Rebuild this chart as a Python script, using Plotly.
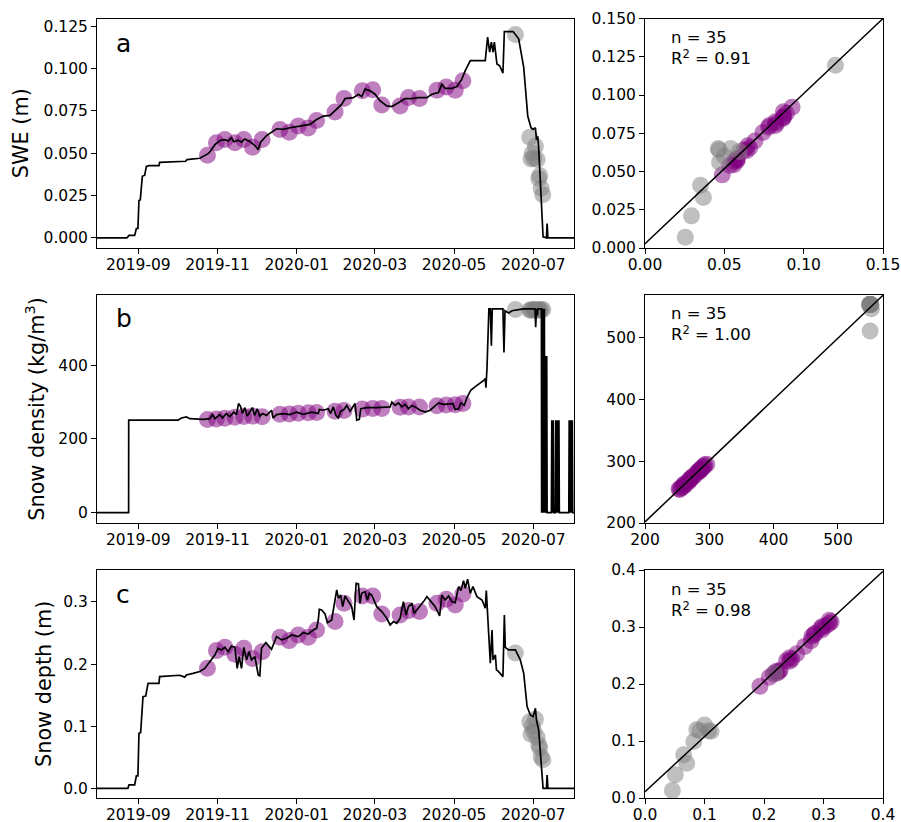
import numpy as np
import pandas as pd
import plotly.graph_objects as go

SEASON_START = pd.Timestamp("2019-09-01")

# Modelled series as (days since 1 Sep 2019, value) vertices
SWE_MODEL = [
    (-31.8, 0.0), (-8.7, 0.0), (-7.2, 0.0014), (-2.8, 0.0014), (-1.5, 0.0055), (-0.3, 0.0055),
    (0.5, 0.022), (1.5, 0.0224), (3.1, 0.0363), (4.9, 0.037), (6.2, 0.0422), (8.2, 0.0426),
    (15.9, 0.0426), (16.4, 0.0446), (36.5, 0.0452), (37.5, 0.0462), (47.3, 0.047), (50.4, 0.0481),
    (53.7, 0.0497), (55.5, 0.0511), (58.9, 0.055), (63.2, 0.0576), (66.6, 0.058), (69.1, 0.0572),
    (71.7, 0.059), (73.5, 0.0567), (76.8, 0.0576), (79.4, 0.0565), (81.9, 0.0584), (85.8, 0.0569),
    (89.7, 0.0545), (92.3, 0.0521), (94.1, 0.0565), (98.7, 0.0604), (106.4, 0.0644), (111.5, 0.064),
    (116.7, 0.065), (124.4, 0.066), (132.1, 0.067), (137.2, 0.0699), (142.4, 0.0719), (147.5, 0.0723),
    (152.7, 0.0759), (156.5, 0.0788), (159.1, 0.0822), (165.5, 0.0828), (169.4, 0.0848), (172.0, 0.0834),
    (174.5, 0.0878), (178.4, 0.0868), (182.2, 0.0848), (186.1, 0.0808), (191.2, 0.0779), (195.1, 0.0775),
    (200.2, 0.0798), (205.3, 0.0822), (210.5, 0.0822), (215.6, 0.0828), (222.0, 0.0828), (225.9, 0.0848),
    (231.0, 0.0858), (233.6, 0.0907), (236.2, 0.0882), (241.3, 0.0882), (245.2, 0.0893), (249.0, 0.0937),
    (251.6, 0.0987), (255.5, 0.1046), (259.3, 0.1046), (267.0, 0.1046), (268.8, 0.1185), (270.4, 0.1096),
    (271.7, 0.1155), (273.0, 0.1096), (274.0, 0.1155), (276.0, 0.1026), (278.1, 0.1016), (280.6, 0.0973),
    (281.7, 0.1218), (288.4, 0.1218), (292.7, 0.1175), (294.0, 0.1125), (296.6, 0.1006), (299.7, 0.0719),
    (302.2, 0.065), (303.8, 0.064), (305.6, 0.065), (306.4, 0.058), (307.4, 0.06), (308.1, 0.0531),
    (311.5, 0.0006), (314.1, 0.0), (314.6, 0.0085), (315.2, 0.0), (335.3, 0.0),
]

DENSITY_MODEL = [
    (-31.8, 0), (-7.45, 0), (-7.4, 251), (30.6, 251), (33.2, 257), (37.0, 260), (39.6, 255),
    (49.9, 253), (55.0, 255), (57.1, 266), (58.9, 255), (62.7, 266), (64.8, 257), (67.8, 269),
    (70.4, 260), (73.5, 273), (75.6, 266), (77.1, 296), (78.6, 289), (80.2, 269), (82.0, 285),
    (83.8, 262), (85.8, 273), (87.9, 285), (89.4, 264), (91.5, 282), (93.5, 262), (95.6, 269),
    (98.7, 264), (102.5, 278), (103.8, 257), (106.4, 266), (111.5, 269), (116.7, 266), (121.8, 273),
    (127.0, 267), (133.4, 273), (138.5, 269), (139.3, 280), (142.4, 278), (146.2, 282), (148.0, 269),
    (150.1, 287), (152.1, 264), (153.9, 257), (155.7, 275), (158.3, 280), (160.4, 291), (162.9, 275),
    (165.5, 287), (166.8, 296), (168.1, 251), (170.1, 253), (171.2, 282), (175.8, 285), (183.5, 285),
    (188.6, 285), (193.8, 287), (195.1, 300), (197.6, 291), (200.2, 298), (202.8, 287), (205.3, 294),
    (207.9, 282), (210.5, 291), (213.1, 287), (216.9, 278), (220.8, 273), (224.6, 278), (228.5, 289),
    (231.0, 298), (234.4, 294), (238.8, 294), (242.1, 296), (243.9, 280), (246.5, 282), (248.3, 298),
    (250.8, 291), (252.9, 312), (256.0, 333), (260.1, 344), (263.2, 351), (266.3, 360), (267.0, 364),
    (267.5, 339), (268.3, 389), (269.8, 553), (270.9, 553), (271.7, 453), (272.4, 553), (280.6, 553),
    (281.4, 435), (282.2, 548), (285.0, 542), (287.6, 548), (292.7, 551), (296.6, 553), (305.3, 553),
    (305.8, 503), (306.4, 553), (307.1, 535), (307.6, 553), (310.2, 553),
    # hourly switching once the pack disappears
    (310.4, 0), (310.7, 553), (311.0, 0), (311.3, 553), (311.6, 0), (311.9, 425), (312.2, 0),
    (312.5, 553), (312.8, 0), (313.1, 425), (313.4, 0), (313.7, 425), (314.0, 0), (314.3, 425),
    (314.6, 0), (317.9, 0), (318.2, 251), (318.5, 0), (318.8, 251), (319.1, 0), (319.4, 251),
    (319.7, 0), (321.0, 0), (321.3, 251), (321.6, 0), (321.9, 251), (322.2, 0), (322.5, 251),
    (322.8, 0), (323.1, 251), (323.4, 0), (323.7, 251), (324.0, 0), (331.3, 0), (331.6, 251),
    (331.9, 0), (332.2, 251), (332.5, 0), (332.8, 251), (333.1, 0), (333.4, 251), (333.7, 0),
    (334.0, 251), (334.3, 0), (335.3, 0),
]

DEPTH_MODEL = [
    (-31.8, 0.0), (-8.0, 0.0), (-7.2, 0.0054), (-2.8, 0.0054), (-1.5, 0.0199), (-0.3, 0.0199),
    (0.5, 0.0886), (1.8, 0.0896), (3.6, 0.1476), (5.7, 0.1487), (7.5, 0.169), (15.9, 0.169),
    (16.4, 0.1798), (24.2, 0.181), (31.9, 0.182), (35.7, 0.179), (37.0, 0.1825), (42.1, 0.185),
    (47.3, 0.188), (51.1, 0.193), (53.7, 0.2), (56.3, 0.2067), (58.9, 0.2147), (61.4, 0.2254),
    (64.0, 0.2228), (66.6, 0.227), (69.1, 0.22), (71.7, 0.2292), (74.3, 0.227), (76.1, 0.1932),
    (77.6, 0.212), (79.4, 0.1932), (81.2, 0.227), (83.3, 0.2067), (85.3, 0.22), (87.1, 0.2067),
    (89.7, 0.212), (92.3, 0.1825), (93.5, 0.181), (94.8, 0.2254), (98.2, 0.2346), (102.5, 0.2238),
    (106.4, 0.2442), (110.3, 0.2389), (114.1, 0.2415), (118.0, 0.247), (123.1, 0.2442), (127.0, 0.2507),
    (130.8, 0.2485), (134.7, 0.255), (137.2, 0.2576), (138.5, 0.271), (139.3, 0.2883), (141.1, 0.2872),
    (143.7, 0.2807), (145.5, 0.2668), (148.8, 0.271), (152.7, 0.3194), (154.0, 0.306), (155.7, 0.3113),
    (157.3, 0.2925), (159.1, 0.3097), (161.7, 0.3006), (164.2, 0.2925), (166.0, 0.271), (167.6, 0.3301),
    (169.4, 0.329), (170.6, 0.2979), (171.9, 0.314), (174.5, 0.3167), (176.3, 0.3033), (177.8, 0.314),
    (179.6, 0.3113), (183.5, 0.2925), (187.4, 0.2845), (191.2, 0.2738), (193.8, 0.263), (196.3, 0.2684),
    (198.9, 0.2657), (201.5, 0.2738), (204.0, 0.3006), (206.1, 0.2791), (207.9, 0.2925), (210.5, 0.2979),
    (212.3, 0.2818), (215.6, 0.2899), (219.5, 0.3006), (222.1, 0.3086), (225.9, 0.2979), (228.5, 0.2925),
    (231.9, 0.2775), (233.6, 0.3113), (236.2, 0.3033), (238.8, 0.3097), (241.3, 0.3006), (243.9, 0.299),
    (246.5, 0.3247), (248.3, 0.3183), (250.3, 0.3344), (251.6, 0.322), (253.4, 0.3366), (255.5, 0.314),
    (257.5, 0.3247), (260.6, 0.3086), (264.5, 0.3033), (267.0, 0.2899), (267.8, 0.3183), (268.8, 0.2764),
    (270.9, 0.2013), (272.2, 0.255), (273.0, 0.2067), (274.8, 0.2147), (275.6, 0.1906), (277.3, 0.1879),
    (280.6, 0.1798), (281.7, 0.2791), (282.4, 0.227), (285.0, 0.2228), (290.2, 0.2228), (294.0, 0.2067),
    (296.6, 0.1852), (299.2, 0.1315), (301.7, 0.1181), (303.8, 0.1154), (305.6, 0.1288), (306.4, 0.11),
    (308.1, 0.0939), (311.5, 0.0), (314.1, 0.0), (314.6, 0.0215), (315.2, 0.0), (335.3, 0.0),
]

# Snow-pit / survey observations (days since 1 Sep 2019)
OBS_DAYS = [53.2, 60.1, 66.6, 74.3, 81.2, 87.9, 95.3, 109.0, 116.2, 123.1, 130.8, 137.2,
            151.4, 158.3, 172.4, 180.4, 187.4, 201.5, 207.9, 216.4, 229.8, 237.0, 243.9, 249.8,
            290.2, 301.2, 302.2, 303.2, 304.3, 305.6, 306.9, 308.2, 308.9, 310.0, 311.3]
OBS_MELT = [False] * 24 + [True] * 11

SWE_OBS = [0.0487, 0.0561, 0.0580, 0.0561, 0.0580, 0.0535, 0.0580, 0.0640, 0.0624, 0.0660, 0.0648, 0.0693,
           0.0743, 0.0822, 0.0868, 0.0874, 0.0784, 0.0779, 0.0828, 0.0822, 0.0872, 0.0891, 0.0872, 0.0927,
           0.1200, 0.0594, 0.0466, 0.0500, 0.0470, 0.0541, 0.0462, 0.0350, 0.0368, 0.0293, 0.0254]
SWE_SIM = [0.0478, 0.0545, 0.0570, 0.0565, 0.0578, 0.0540, 0.0585, 0.0635, 0.0640, 0.0655, 0.0668, 0.0700,
           0.0755, 0.0800, 0.0845, 0.0860, 0.0800, 0.0790, 0.0815, 0.0825, 0.0855, 0.0880, 0.0890, 0.0920,
           0.1195, 0.0630, 0.0640, 0.0600, 0.0560, 0.0650, 0.0650, 0.0410, 0.0330, 0.0210, 0.0070]

DENSITY_OBS = [253, 254, 256, 259, 261, 262, 260, 267, 268, 270, 271, 272,
               275, 277, 281, 283, 283, 286, 287, 287, 290, 292, 293, 296,
               551, 550, 549, 550, 552, 550, 549, 551, 550, 550, 551]
DENSITY_SIM = [255, 254, 257, 258, 262, 261, 262, 266, 269, 269, 272, 273,
               276, 276, 282, 282, 284, 285, 288, 286, 291, 291, 294, 295,
               553, 553, 553, 553, 546, 510, 553, 553, 553, 553, 553]

DEPTH_OBS = [0.1932, 0.2217, 0.2270, 0.2160, 0.2254, 0.2090, 0.2200, 0.2432, 0.2378, 0.2469, 0.2432, 0.2550,
             0.2684, 0.2979, 0.3097, 0.3097, 0.2807, 0.2791, 0.2861, 0.2845, 0.2979, 0.3043, 0.2952, 0.3129,
             0.2180, 0.1070, 0.0870, 0.1000, 0.0920, 0.1110, 0.0820, 0.0700, 0.0650, 0.0510, 0.0460]
DEPTH_SIM = [0.196, 0.219, 0.224, 0.218, 0.222, 0.212, 0.222, 0.240, 0.241, 0.244, 0.246, 0.253,
             0.266, 0.295, 0.306, 0.312, 0.284, 0.276, 0.289, 0.287, 0.301, 0.302, 0.298, 0.309,
             0.219, 0.118, 0.120, 0.128, 0.118, 0.117, 0.099, 0.061, 0.076, 0.041, 0.013]

PANEL_LETTERS = ["a", "b", "c"]
Y_TITLES = ["SWE (m)", "Snow density (kg/m<sup>3</sup>)", "Snow depth (m)"]
R2_TEXT = ["0.91", "1.00", "0.98"]
FIT_SLOPE = [0.981, 0.989, 0.967]
FIT_INTERCEPT = [0.0028, 4.0, 0.011]

# ---------------------------------------------------------------- styling
W, H = 901, 822
FONT = "DejaVu Sans"
PURPLE = "#800080"
GREY = "#808080"
TICK_FONT = dict(family=FONT, size=15.5, color="black")

LEFT_X = (97, 574)
RIGHT_X = (645, 883)
ROWS_Y = [(18.5, 248), (294.5, 523), (570, 798)]
TITLE_X = [21, 35, 44]

TS_YRANGE = [[-0.006, 0.1295], [-28, 592], [-0.0156, 0.3515]]
TS_YTICKS = [dict(dtick=0.025, tick0=0, tickformat=".3f"),
             dict(tickvals=[0, 200, 400]),
             dict(dtick=0.1, tick0=0, tickformat=".1f")]
SC_RANGE = [([0, 0.15], [0, 0.15]), ([200, 570], [200, 569]), ([0, 0.4], [0, 0.4])]
SC_XTICKS = [dict(dtick=0.05, tick0=0, tickformat=".2f"),
             dict(dtick=100, tick0=200),
             dict(dtick=0.1, tick0=0, tickformat=".1f")]
SC_YTICKS = [dict(dtick=0.025, tick0=0, tickformat=".3f"),
             dict(dtick=100, tick0=200),
             dict(dtick=0.1, tick0=0, tickformat=".1f")]


def to_dates(days):
    return SEASON_START + pd.to_timedelta(np.asarray(days, dtype=float), unit="D")


def px_x(a, b):
    return [a / W, b / W]


def px_y(top, bottom):
    return [1 - bottom / H, 1 - top / H]


base_axis = dict(showline=True, mirror=True, linecolor="black", linewidth=1,
                 ticks="outside", ticklen=5, tickwidth=1, tickcolor="black",
                 showgrid=False, zeroline=False, tickfont=TICK_FONT, automargin=False)
x_axis = dict(base_axis, ticklabelstandoff=-3)

fig = go.Figure()
layout = {}
annotations = []

models = [SWE_MODEL, DENSITY_MODEL, DEPTH_MODEL]
obs_sets = [SWE_OBS, DENSITY_OBS, DEPTH_OBS]
sim_sets = [SWE_SIM, DENSITY_SIM, DEPTH_SIM]

obs_dates = to_dates(OBS_DAYS)
melt = np.array(OBS_MELT)

for i in range(3):
    ts_n, sc_n = 2 * i + 1, 2 * i + 2
    ts_x = "x" if ts_n == 1 else f"x{ts_n}"
    ts_y = "y" if ts_n == 1 else f"y{ts_n}"
    sc_x, sc_y = f"x{sc_n}", f"y{sc_n}"

    obs = np.array(obs_sets[i], dtype=float)
    sim = np.array(sim_sets[i], dtype=float)

    # time series: observation markers then modelled line on top
    for mask, col in ((~melt, PURPLE), (melt, GREY)):
        fig.add_trace(go.Scatter(
            x=obs_dates[mask], y=obs[mask], mode="markers", xaxis=ts_x, yaxis=ts_y,
            marker=dict(size=17, color=col, opacity=0.5, line=dict(width=0)),
            showlegend=False, hoverinfo="skip"))
    days, vals = zip(*models[i])
    fig.add_trace(go.Scatter(
        x=to_dates(days), y=list(vals), mode="lines", xaxis=ts_x, yaxis=ts_y,
        line=dict(color="black", width=1.7), showlegend=False, hoverinfo="skip"))

    # observed vs modelled scatter with regression line
    for mask, col in ((~melt, PURPLE), (melt, GREY)):
        fig.add_trace(go.Scatter(
            x=obs[mask], y=sim[mask], mode="markers", xaxis=sc_x, yaxis=sc_y,
            marker=dict(size=17, color=col, opacity=0.5, line=dict(width=0)),
            showlegend=False, hoverinfo="skip"))
    xr, yr = SC_RANGE[i]
    fx = np.array(xr, dtype=float)
    fig.add_trace(go.Scatter(
        x=fx, y=FIT_INTERCEPT[i] + FIT_SLOPE[i] * fx, mode="lines", xaxis=sc_x, yaxis=sc_y,
        line=dict(color="black", width=1.5), showlegend=False, hoverinfo="skip"))

    top, bottom = ROWS_Y[i]
    ts_xkey = "xaxis" if ts_n == 1 else f"xaxis{ts_n}"
    ts_ykey = "yaxis" if ts_n == 1 else f"yaxis{ts_n}"
    layout[ts_xkey] = dict(x_axis, domain=px_x(*LEFT_X), anchor=ts_y, type="date",
                           range=["2019-07-31 05:00", "2020-08-01 07:00"],
                           tickformat="%Y-%m", dtick="M2", tick0="2019-09-01")
    layout[ts_ykey] = dict(base_axis, domain=px_y(top, bottom), anchor=ts_x,
                           range=TS_YRANGE[i], **TS_YTICKS[i])
    layout[f"xaxis{sc_n}"] = dict(x_axis, domain=px_x(*RIGHT_X), anchor=sc_y,
                                  range=xr, **SC_XTICKS[i])
    layout[f"yaxis{sc_n}"] = dict(base_axis, domain=px_y(top, bottom), anchor=sc_x,
                                  range=yr, **SC_YTICKS[i])

    dom = "" if ts_n == 1 else str(ts_n)
    annotations.append(dict(
        text=PANEL_LETTERS[i], xref=f"x{dom} domain", yref=f"y{dom} domain",
        x=0.036, y=0.893, xanchor="left", yanchor="middle", showarrow=False,
        font=dict(family=FONT, size=25, color="black")))
    annotations.append(dict(
        text=f"n = {len(obs)}<br>R<sup>2</sup> = {R2_TEXT[i]}",
        xref=f"x{sc_n} domain", yref=f"y{sc_n} domain", x=0.1, y=0.967,
        xanchor="left", yanchor="top", align="left", showarrow=False,
        font=dict(family=FONT, size=16.5, color="black")))
    annotations.append(dict(
        text=Y_TITLES[i], xref="paper", yref="paper", x=TITLE_X[i] / W,
        y=1 - (top + bottom) / 2 / H, xanchor="center", yanchor="middle",
        textangle=-90, showarrow=False, font=dict(family=FONT, size=20.8, color="black")))

fig.update_layout(
    width=W, height=H, margin=dict(l=0, r=0, t=0, b=0),
    paper_bgcolor="white", plot_bgcolor="white",
    font=dict(family=FONT, color="black"),
    annotations=annotations, **layout)

fig.write_html("out.html")
